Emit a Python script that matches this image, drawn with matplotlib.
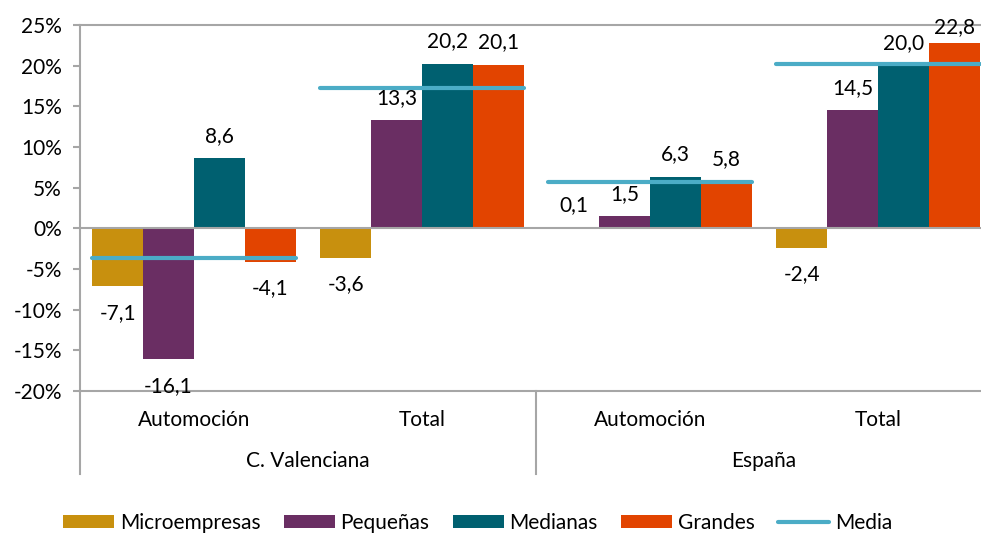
# Variación por tamaño de empresa: C. Valenciana vs España
import matplotlib.pyplot as plt
import matplotlib.transforms as mtransforms
from matplotlib.patches import Patch
from matplotlib.lines import Line2D
import numpy as np

plt.rcParams['font.family'] = ['Lato', 'DejaVu Sans']

# -----------------------------
# Data
# -----------------------------
groups = ["Automoción", "Total", "Automoción", "Total"]
regions = ["C. Valenciana", "España"]
series = ["Microempresas", "Pequeñas", "Medianas", "Grandes"]
micro = [-7.1, -3.6, 0.1, -2.4]
pequenas = [-16.1, 13.3, 1.5, 14.5]
medianas = [8.6, 20.2, 6.3, 20.0]
grandes = [-4.1, 20.1, 5.8, 22.8]
media = [-3.7, 17.2, 5.7, 20.2]
yticks = [-20, -15, -10, -5, 0, 5, 10, 15, 20, 25]

colors = ["#C8900E", "#6A2E63", "#006070", "#E24400"]
media_color = "#4BACC6"
gray = "#A6A6A6"
FS = 15

# -----------------------------
# Figure
# -----------------------------
fig = plt.figure(figsize=(9.81, 5.34), dpi=100)
ax = fig.add_axes([80 / 981, 143 / 534, 912 / 981, 366 / 534])

x = np.arange(len(groups))
w = 0.2226
values = [micro, pequenas, medianas, grandes]

for i, (vals, c) in enumerate(zip(values, colors)):
    xpos = x + (i - 1.5) * w
    ax.bar(xpos, vals, width=w, color=c, zorder=2)
    for xp, v in zip(xpos, vals):
        if v >= 0:
            ty = min(v + 2.77, 24.7)
        else:
            ty = v - 3.26
        ax.text(xp, ty, f"{v:.1f}".replace(".", ","), ha="center", va="center",
                fontsize=FS, zorder=5)

# Media line over each group
for xc, m in zip(x, media):
    ax.plot([xc - 2 * w, xc + 2 * w], [m, m], color=media_color, lw=3,
            solid_capstyle="round", zorder=4)

ax.axhline(0, color=gray, lw=1.5, zorder=3)

ax.set_xlim(-0.5, 3.5)
ax.set_ylim(-20, 25)
ax.set_yticks(yticks)
ax.set_yticklabels([f"{t}%" for t in yticks])
ax.tick_params(axis="y", length=5, width=1.5, color=gray, pad=8, labelsize=FS)
ax.set_xticks([])

for s in ["left", "top", "bottom"]:
    ax.spines[s].set_color(gray)
    ax.spines[s].set_linewidth(1.5)
ax.spines["right"].set_visible(False)

# Multi-level category axis
trans = mtransforms.blended_transform_factory(ax.transData, ax.transAxes)
for xc, g in zip(x, groups):
    ax.text(xc, -29 / 366, g, transform=trans, ha="center", va="center", fontsize=FS)
for k, r in enumerate(regions):
    ax.text(2 * k + 0.5, -70 / 366, r, transform=trans, ha="center", va="center", fontsize=FS)
for sx in [-0.5, 1.5, 3.5]:
    ax.plot([sx, sx], [0, -83 / 366], transform=trans, color=gray, lw=1.5, clip_on=False)

# Legend
handles = [Patch(facecolor=c, label=s) for c, s in zip(colors, series)]
handles.append(Line2D([0], [0], color=media_color, lw=3, solid_capstyle="round", label="Media"))
fig.legend(handles=handles, loc="center", bbox_to_anchor=(477.5 / 981, 11 / 534), ncol=5,
           frameon=False, fontsize=FS, handlelength=2.45, handleheight=0.58,
           handletextpad=0.29, columnspacing=1.1)

fig.savefig("out.png", dpi=100)
